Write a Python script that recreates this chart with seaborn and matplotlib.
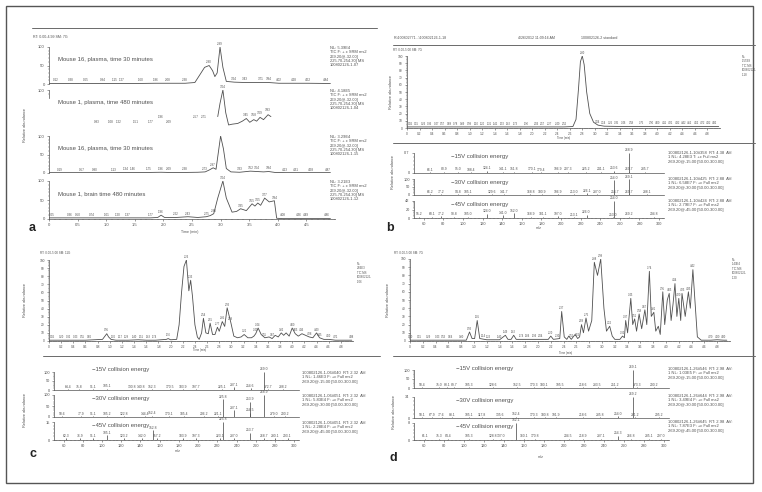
import matplotlib
matplotlib.use('Agg')
import matplotlib.pyplot as plt
import numpy as np
import seaborn as sns
from matplotlib.lines import Line2D
from matplotlib.patches import Rectangle
from matplotlib.ticker import AutoMinorLocator, FuncFormatter

sns.set_theme(style='ticks')
plt.rcParams['font.family'] = ['Liberation Sans', 'DejaVu Sans']

# ---------------- data: panel a (four chromatograms) ----------------
t_a1 = [0.00, 0.12, 0.38, 0.65, 0.94, 1.15, 1.27, 1.60, 1.86, 2.08,
        2.38, 2.55, 2.65, 2.72, 2.80, 2.86, 2.90, 2.94, 2.99, 3.04,
        3.10, 3.24, 3.43, 3.71, 3.84, 4.02, 4.28, 4.52, 4.84, 4.92]
i_a1 = [1, 1.5, 1.5, 1.2, 1.5, 1.5, 1.5, 1.5, 2, 2,
        2, 4, 28, 45, 50, 36, 20, 30, 100, 45,
        7, 5, 4, 4, 4, 2, 2, 2, 1.5, 1]
lab_a1 = [0.12, 0.38, 0.65, 0.94, 1.15, 1.27, 1.60, 1.86, 2.08, 2.38,
          2.80, 2.99, 3.24, 3.43, 3.71, 3.84, 4.02, 4.28, 4.52, 4.84]

t_a2 = [2.95, 2.99, 3.04, 3.09, 3.14, 3.20, 3.30, 3.38, 3.45, 3.51,
        3.58, 3.63, 3.69, 3.75, 3.83, 3.88]
i_a2 = [30, 65, 100, 40, 8, 10, 12, 18, 25, 15,
        22, 18, 28, 22, 35, 30]
lab_a2 = [0.83, 1.08, 1.22, 1.51, 1.77, 1.96, 2.09, 2.57, 2.71, 3.04,
          3.45, 3.58, 3.69, 3.83]
lev_a2 = [8, 8, 8, 8, 8, 20, 8, 22, 22, 100,
          25, 25, 31, 38]

t_a3 = [0.00, 0.19, 0.57, 0.80, 1.13, 1.34, 1.46, 1.75, 1.96, 2.09,
        2.38, 2.60, 2.73, 2.80, 2.87, 2.92, 2.96, 3.00, 3.05, 3.10,
        3.18, 3.33, 3.52, 3.64, 3.75, 3.84, 3.95, 4.13, 4.31, 4.58,
        4.87, 4.92]
i_a3 = [1, 1, 1, 1, 1, 1.5, 1.5, 1.5, 2, 1.5,
        1.5, 2, 3, 8, 14, 10, 55, 100, 65, 12,
        3, 2, 5, 4, 3, 4, 1.5, 1, 1, 1,
        1, 1]
lab_a3 = [0.19, 0.57, 0.80, 1.13, 1.34, 1.46, 1.75, 1.96, 2.09, 2.38,
          2.73, 2.87, 3.33, 3.52, 3.64, 3.84, 4.13, 4.31, 4.58, 4.87]

t_a4 = [0.00, 0.05, 0.36, 0.50, 0.74, 1.01, 1.20, 1.37, 1.77, 1.90,
        1.96, 2.02, 2.22, 2.43, 2.60, 2.75, 2.82, 2.88, 2.95, 3.04,
        3.10, 3.20, 3.28, 3.35, 3.45, 3.55, 3.60, 3.65, 3.70, 3.77,
        3.85, 3.94, 3.98, 4.08, 4.36, 4.49, 4.86, 4.92]
i_a4 = [3, 3, 3, 3, 3, 3, 3, 3, 3, 4,
        10, 4, 4, 6, 4, 6, 9, 14, 55, 100,
        55, 18, 20, 27, 22, 40, 34, 42, 36, 55,
        45, 48, 2, 1, 1, 1, 1, 1]
lab_a4 = [0.05, 0.36, 0.50, 0.74, 1.01, 1.20, 1.37, 1.77, 1.96, 2.22,
          2.43, 2.75, 2.88, 3.04, 3.35, 3.55, 3.65, 3.77, 3.94, 4.08,
          4.36, 4.49, 4.86]

titles_a = ['Mouse 16, plasma, time 30 minutes', 'Mouse 1, plasma, time 480 minutes',
            'Mouse 16, plasma, time 30 minutes', 'Mouse 1, brain time 480 minutes']
nl_a = ['5.39E4', '4.18E5', '3.29E4', '3.21E3']
file_a = ['100802126-1-07', '100802126-1-04', '100802126-1-15', '100802126-1-12']

# ---------------- data: panel b ----------------
t_b = [0.00, 0.50, 1.00, 1.50, 2.00, 2.50, 2.65, 2.70, 2.74, 2.77,
       2.80, 2.83, 2.87, 2.92, 2.98, 3.05, 3.15, 3.50, 4.00, 4.50, 4.98]
i_b = [1.5, 1.5, 1.5, 1.5, 1.5, 1.5, 2, 12, 55, 92,
       100, 88, 50, 20, 8, 4, 2.5, 2, 2, 2, 2]
lab_b = [0.05, 0.15, 0.26, 0.36, 0.47, 0.57, 0.68, 0.78, 0.89, 0.99,
         1.10, 1.20, 1.31, 1.41, 1.52, 1.62, 1.73, 1.90, 2.06, 2.17,
         2.27, 2.40, 2.52, 2.80, 3.04, 3.14, 3.25, 3.35, 3.46, 3.58,
         3.75, 3.90, 4.00, 4.11, 4.21, 4.32, 4.42, 4.52, 4.62, 4.72,
         4.82, 4.92]

mz_b1 = [66.1, 80.9, 95.0, 108.4, 124.1, 141.1, 151.8, 170.1, 179.4, 196.9,
         207.3, 225.2, 241.1, 253.6, 268.9, 269.7, 285.7]
ab_b1 = [0.03, 0.04, 0.04, 0.03, 0.08, 0.04, 0.04, 0.04, 0.03, 0.04,
         0.04, 0.04, 0.04, 0.08, 0.70, 0.05, 0.04]
mz_b2 = [66.2, 77.2, 94.8, 105.1, 129.6, 141.7, 168.8, 180.9, 196.9, 213.0,
         226.1, 237.0, 254.0, 254.7, 269.1, 269.7, 288.1]
ab_b2 = [4, 6, 4, 5, 4, 5, 4, 4, 4, 4,
         10, 4, 92, 3, 100, 4, 4]
mz_b3 = [55.2, 68.1, 77.2, 90.8, 105.0, 124.0, 141.0, 152.0, 168.9, 181.1,
         197.0, 213.1, 226.0, 253.0, 254.0, 269.2, 294.8]
ab_b3 = [3, 3, 4, 3, 3, 10, 7, 12, 3, 3,
         4, 2, 8, 2, 42, 3, 3]

# ---------------- data: panel c ----------------
t_c = [0.00, 0.10, 0.30, 0.60, 0.88, 0.92, 0.95, 0.98, 1.02, 1.10,
       1.30, 1.47, 1.60, 1.75, 1.93, 1.96, 2.00, 2.10, 2.14, 2.18,
       2.22, 2.26, 2.30, 2.33, 2.36, 2.40, 2.44, 2.47, 2.51, 2.54,
       2.58, 2.62, 2.65, 2.69, 2.73, 2.77, 2.80, 2.85, 2.89, 2.93,
       2.99, 3.04, 3.10, 3.16, 3.21, 3.27, 3.33, 3.37, 3.40, 3.44,
       3.49, 3.55, 3.62, 3.67, 3.72, 3.77, 3.82, 3.86, 3.90, 3.95,
       4.00, 4.05, 4.10, 4.16, 4.22, 4.28, 4.34, 4.40, 4.45, 4.52,
       4.60, 4.71, 4.85, 4.98]
i_c = [1, 1, 1, 1, 2, 6, 9, 5, 2, 1,
       1, 1.5, 1, 1, 2, 3, 1.5, 2, 20, 60,
       92, 100, 62, 75, 55, 20, 5, 2, 10, 28,
       10, 9, 22, 8, 8, 17, 12, 24, 18, 41,
       23, 6, 4, 5, 8, 4, 4, 6, 9, 16,
       8, 4, 5, 3, 7, 5, 10, 7, 10, 6,
       16, 9, 6, 9, 7, 5, 4, 10, 4, 2,
       2, 1, 1, 1]
lab_c = [0.05, 0.20, 0.32, 0.43, 0.55, 0.66, 0.95, 1.06, 1.17, 1.28,
         1.40, 1.51, 1.63, 1.74, 1.96, 2.26, 2.33, 2.54, 2.65, 2.77,
         2.85, 2.93, 2.99, 3.21, 3.40, 3.44, 3.55, 3.67, 3.82, 4.00,
         4.05, 4.16, 4.28, 4.40, 4.45, 4.60, 4.71, 4.98]

mz_c1 = [64.4, 75.8, 91.1, 105.1, 130.8, 140.8, 152.3, 170.5, 183.9, 197.7,
         225.1, 237.1, 254.6, 269.0, 272.7, 288.2]
ab_c1 = [3, 3, 3, 6, 3, 3, 4, 4, 3, 3,
         4, 15, 10, 100, 3, 3]
mz_c2 = [58.6, 77.9, 91.1, 105.2, 122.8, 144.4, 152.4, 170.1, 185.4, 206.2,
         221.1, 225.8, 237.1, 253.9, 254.5, 268.9, 279.0, 290.2]
ab_c2 = [3, 3, 3, 3, 3, 3, 4, 3, 3, 3,
         3, 80, 30, 68, 20, 100, 3, 3]
mz_c3 = [62.3, 76.9, 91.1, 105.1, 123.2, 142.0, 152.8, 157.2, 183.9, 197.3,
         223.1, 225.8, 237.0, 253.7, 268.7, 280.1, 293.1]
ab_c3 = [1.5, 1.5, 1.5, 4, 1.5, 1.5, 8, 1.5, 1.5, 1.5,
         1.5, 15, 1.5, 6, 1.5, 1.5, 1.5]

# ---------------- data: panel d ----------------
t_d = [0.00, 0.30, 0.60, 0.88, 0.93, 0.97, 1.01, 1.05, 1.09, 1.20,
       1.40, 1.49, 1.53, 1.58, 1.62, 1.66, 1.80, 2.00, 2.16, 2.20,
       2.24, 2.34, 2.37, 2.41, 2.45, 2.48, 2.52, 2.58, 2.62, 2.65,
       2.68, 2.71, 2.75, 2.79, 2.84, 2.88, 2.93, 2.98, 3.03, 3.07,
       3.12, 3.16, 3.20, 3.28, 3.32, 3.35, 3.37, 3.40, 3.45, 3.48,
       3.51, 3.54, 3.58, 3.62, 3.67, 3.70, 3.74, 3.77, 3.81, 3.84,
       3.88, 3.91, 3.95, 3.98, 4.02, 4.05, 4.08, 4.11, 4.14, 4.17,
       4.20, 4.23, 4.25, 4.30, 4.35, 4.38, 4.42, 4.46, 4.49, 4.55,
       4.70, 4.80, 4.90, 4.95]
i_d = [1, 1, 1, 1, 11, 3, 3, 25, 3, 1.5,
       1.5, 7, 2, 2, 7, 2, 2, 2, 2, 6,
       2, 3, 36, 5, 2, 6, 2, 8, 3, 5,
       20, 10, 28, 12, 25, 96, 80, 100, 40, 12,
       18, 6, 2, 2, 6, 4, 25, 10, 52, 20,
       27, 12, 33, 15, 38, 20, 85, 30, 35, 12,
       18, 8, 60, 20, 50, 58, 25, 45, 70, 30,
       52, 25, 58, 30, 60, 40, 87, 40, 5, 1,
       1, 1.5, 1, 1]
lab_d = [0.00, 0.15, 0.29, 0.43, 0.53, 0.64, 0.80, 0.93, 1.05, 1.14,
         1.23, 1.40, 1.49, 1.62, 1.74, 1.84, 1.94, 2.04, 2.20, 2.30,
         2.37, 2.52, 2.62, 2.68, 2.75, 2.88, 2.98, 3.12, 3.32, 3.37,
         3.45, 3.51, 3.58, 3.67, 3.74, 3.81, 3.95, 4.05, 4.14, 4.20,
         4.25, 4.35, 4.42, 4.70, 4.80, 4.90]

mz_d1 = [58.4, 75.0, 83.1, 89.7, 105.3, 128.6, 152.5, 170.3, 180.1, 195.5,
         218.6, 233.5, 251.2, 269.1, 273.3, 290.2]
ab_d1 = [3, 3, 3, 3, 4, 3, 3, 3, 3, 3,
         3, 3, 3, 100, 3, 3]
mz_d2 = [58.1, 67.9, 77.6, 88.1, 105.1, 117.8, 135.6, 152.4, 170.3, 180.8,
         191.9, 218.6, 235.8, 254.0, 269.2, 271.2, 295.2]
ab_d2 = [1, 1, 1, 1, 1, 1, 1, 1.5, 1, 1,
         1, 1, 1, 2.5, 34, 1, 1]
mz_d3 = [61.1, 75.3, 84.4, 105.3, 128.8, 137.0, 152.1, 160.1, 170.8, 204.5,
         218.9, 237.1, 254.3, 266.8, 285.1, 297.0]
ab_d3 = [0.5, 0.5, 0.5, 0.5, 0.5, 0.5, 8, 0.5, 0.5, 0.5,
         0.5, 0.5, 2, 0.5, 0.5, 0.5]

energies = ['\u221215V collision energy', '\u221230V collision energy', '\u221245V collision energy']
info_b = ['100802126-1-10#358  RT: 4.38  AV:\n1 NL: 4.28E3 T: +c Full ms2\n269.20@-15.00 [50.00-300.00]',
          '100802126-1-10#425  RT: 2.88  AV:\n1 NL: 6.58E7 F: +c Full ms2\n269.20@-30.00 [50.00-300.00]',
          '100802126-1-10#424  RT: 2.88  AV:\n1 NL: 2.79E7 F: +c Full ms2\n269.20@-45.00 [50.00-300.00]']
info_c = ['100802126-1-06#040  RT: 2.32  AV:\n1 NL: 1.46E3 F: +c Full ms2\n269.20@-15.00 [50.00-300.00]',
          '100802126-1-06#051  RT: 2.32  AV:\n1 NL: 5.83E4 F: +c Full ms2\n269.20@-30.00 [50.00-300.00]',
          '100802126-1-06#051  RT: 2.32  AV:\n1 NL: 2.28E4 F: +c Full ms2\n269.20@-45.00 [50.00-300.00]']
info_d = ['100802126-1-26#546  RT: 2.98  AV:\n1 NL: 1.03E5 F: +c Full ms2\n269.20@-15.00 [50.00-300.00]',
          '100802126-1-26#644  RT: 2.98  AV:\n1 NL: 3.49E4 F: +c Full ms2\n269.20@-30.00 [50.00-300.00]',
          '100802126-1-26#645  RT: 2.98  AV:\n1 NL: 7.87E3 F: +c Full ms2\n269.20@-45.00 [50.00-300.00]']

# ---------------- figure helpers ----------------
W, H = 762, 492
INK = '#505050'
fig = plt.figure(figsize=(W / 100, H / 100), dpi=100)
fig.patch.set_facecolor('white')


def px_ax(x0, y0, x1, y1):
    ax = fig.add_axes([x0 / W, 1 - y1 / H, (x1 - x0) / W, (y1 - y0) / H])
    ax.set_facecolor('none')
    return ax


def ptext(x, y, s, size=3.0, va='top', ha='left', **kw):
    fig.text(x / W, 1 - y / H, s, fontsize=size, color=kw.pop('color', INK), va=va, ha=ha, **kw)


def pline(x0, x1, y):
    fig.add_artist(Line2D([x0 / W, x1 / W], [1 - y / H, 1 - y / H], color='#6a6a6a', lw=0.7))


def tfmt(v, pos):
    return '0' if abs(v) < 1e-9 else f'{v:.1f}'


def style(ax, xlim, ylim, yticks, xticks=None, xfmt=None, lsize=2.6, minor_y=5):
    ax.set_xlim(*xlim)
    ax.set_ylim(*ylim)
    for s in ['top', 'right']:
        ax.spines[s].set_visible(False)
    for s in ['left', 'bottom']:
        ax.spines[s].set_color(INK)
        ax.spines[s].set_linewidth(0.5)
    ax.set_yticks(yticks)
    ax.yaxis.set_minor_locator(AutoMinorLocator(minor_y))
    ax.tick_params(axis='y', which='major', length=1.6, width=0.4, color=INK,
                   labelsize=lsize, labelcolor=INK, pad=1.5)
    ax.tick_params(axis='y', which='minor', length=0.9, width=0.3, color=INK)
    if xticks is None:
        ax.tick_params(axis='x', which='both', bottom=False, labelbottom=False)
    else:
        ax.set_xticks(xticks)
        ax.xaxis.set_minor_locator(AutoMinorLocator(5))
        if xfmt is not None:
            ax.xaxis.set_major_formatter(FuncFormatter(xfmt))
        ax.tick_params(axis='x', which='major', length=1.6, width=0.4, color=INK,
                       labelsize=lsize, labelcolor=INK, pad=1)
        ax.tick_params(axis='x', which='minor', length=0.9, width=0.3, color=INK)
    ax.set_xlabel('')
    ax.set_ylabel('')


def chrom(ax, t, y, labels, levels=None, lsize=2.3, off=2.0):
    sns.lineplot(x=t, y=y, ax=ax, color=INK, lw=0.6, estimator=None, sort=False)
    if levels is None:
        levels = np.interp(labels, t, y)
    for lt, lv in zip(labels, levels):
        ax.text(lt, lv + off, f'{lt:.2f}', ha='center', va='bottom', fontsize=lsize,
                color=INK, clip_on=False)


def spectrum(ax, mz, ab, top, lsize=2.4):
    ax.vlines(mz, 0, ab, color=INK, lw=0.55)
    for m, v in zip(mz, ab):
        ax.text(m, v + top * 0.03, f'{m:.1f}', ha='center', va='bottom', fontsize=lsize,
                color=INK, clip_on=False)


def ylab(x, y, s='Relative abundance'):
    fig.text(x / W, 1 - y / H, s, rotation=90, fontsize=2.8, color=INK, ha='center', va='center')


# outer frame
fig.add_artist(Rectangle((6 / W, 1 - 483 / H), 747 / W, 477 / H, transform=fig.transFigure,
                         fill=False, ec='#555555', lw=1.0))

# ================= panel a =================
pline(32, 377, 28)
ptext(33, 35, 'RT: 0.00-4.99 SM: 7G', size=2.6)
rows_a = [(47, 84), (90, 128), (136, 173), (181, 219)]
series_a = [(t_a1, i_a1, lab_a1, None), (t_a2, i_a2, lab_a2, lev_a2),
            (t_a3, i_a3, lab_a3, None), (t_a4, i_a4, lab_a4, None)]
for k, ((y0, y1), (tt, ii, ll, lv)) in enumerate(zip(rows_a, series_a)):
    ax = px_ax(49, y0, 335, y1)
    chrom(ax, tt, ii, ll, lv, lsize=2.2, off=3)
    last = k == 3
    style(ax, (0, 5.0), (0, 100), [100] if k == 1 else [0, 50, 100],
          xticks=list(np.arange(0, 4.6, 0.5)) if last else None, xfmt=tfmt, lsize=3.0)
    if not last:
        ax.spines['bottom'].set_visible(False)
    if k == 1:
        ax.spines['left'].set_bounds(80, 100)
        ax.set_yticks([90], minor=True)
    ptext(58, y0 + 10, titles_a[k], size=4.3)
    ptext(330, y0 - 1, f'NL: {nl_a[k]}\nTIC F: + c SRM ms2\n269.20@-32.00]\n'
          f'225.70-254.30] MS\n{file_a[k]}', size=2.9, linespacing=1.1)
ylab(25, 125)
ptext(190, 230, 'Time (min)', size=2.6, ha='center')
ptext(29, 222, 'a', size=9, fontweight='bold', color='#222222')

# ================= panel b =================
ptext(394, 36, 'R:\\100802771...\\100802126-1-18', size=2.6)
ptext(518, 36, '4/26/2012 11:09:16 AM', size=2.6)
ptext(581, 36, '100802126-2 standard', size=2.6)
pline(393, 755, 45)
ptext(393, 48, 'RT: 0.00-5.00 SM: 7G', size=2.2)
ax = px_ax(407, 56, 720, 128)
chrom(ax, t_b, i_b, lab_b, lsize=1.9, off=1.5)
style(ax, (0, 5.0), (0, 100), list(range(0, 101, 10)),
      xticks=list(np.round(np.arange(0, 4.81, 0.2), 1)), xfmt=tfmt, lsize=2.3)
ylab(391, 92)
ptext(564, 136.5, 'Time (min)', size=2.0, ha='center')
ptext(742, 55, 'NL:\n1.55E8\nTIC MS\n100802126-\n1-18', size=2.0, linespacing=1.15)
pline(393, 755, 143)

rows_b = [(153, 173), (179, 195), (201, 218)]
spec_b = [(mz_b1, ab_b1, 0.7, [0, 0.7]), (mz_b2, ab_b2, 100, [0, 50, 100]),
          (mz_b3, ab_b3, 42, [0, 20, 42])]
for k, ((y0, y1), (mz, ab, top, yt)) in enumerate(zip(rows_b, spec_b)):
    ax = px_ax(414, y0, 664, y1)
    spectrum(ax, mz, ab, top)
    style(ax, (50, 305), (0, top), yt,
          xticks=list(range(60, 301, 20)) if k == 2 else None, lsize=2.8)
    if k == 0:
        ax.yaxis.set_major_formatter(FuncFormatter(lambda v, p: '0' if v == 0 else f'{v:.1f}'))
    ptext(451, y0 + 1, energies[k], size=4.3)
    ptext(668, y0 - 2, info_b[k], size=3.0, linespacing=1.15)
ylab(393, 172)
ptext(539, 226, 'm/z', size=2.6, ha='center')
ptext(386, 222, 'b', size=9, fontweight='bold', color='#222222')

# ================= panel c =================
ptext(40, 251, 'RT: 0.00-5.00 SM: 11G', size=2.2)
ax = px_ax(49, 260, 353, 341)
chrom(ax, t_c, i_c, lab_c, lsize=1.9, off=1.5)
style(ax, (0, 5.0), (0, 100), list(range(0, 101, 10)),
      xticks=list(np.round(np.arange(0, 4.81, 0.2), 1)), xfmt=tfmt, lsize=2.3)
ylab(25, 300)
ptext(200, 348.5, 'Time (min)', size=2.0, ha='center')
ptext(357, 262, 'NL:\n2.66E3\nTIC MS\n100802126-\n1-06', size=2.0, linespacing=1.15)
pline(43, 380, 356)

rows_c = [(372, 390), (395, 417), (422, 440)]
spec_c = [(mz_c1, ab_c1, 100, [0, 50, 100]), (mz_c2, ab_c2, 100, [0, 50, 100]),
          (mz_c3, ab_c3, 15, [0, 15])]
for k, ((y0, y1), (mz, ab, top, yt)) in enumerate(zip(rows_c, spec_c)):
    ax = px_ax(54, y0, 299, y1)
    spectrum(ax, mz, ab, top)
    style(ax, (50, 305), (0, top), yt,
          xticks=list(range(60, 301, 20)) if k == 2 else None, lsize=2.8)
    ptext(92, y0 - 5 if k == 0 else y0 + 1, energies[k], size=4.3)
    ptext(302, y0 - 1, info_c[k], size=3.0, linespacing=1.15)
ylab(25, 410)
ptext(178, 449, 'm/z', size=2.6, ha='center')
ptext(29, 448, 'c', size=9, fontweight='bold', color='#222222')

# ================= panel d =================
ptext(394, 251, 'RT: 0.00-5.00 SM: 7G', size=2.2)
ax = px_ax(410, 259, 730, 341)
chrom(ax, t_d, i_d, lab_d, lsize=1.9, off=1.5)
style(ax, (0, 5.0), (0, 100), list(range(0, 101, 10)),
      xticks=list(np.round(np.arange(0, 4.81, 0.2), 1)), xfmt=tfmt, lsize=2.3)
ylab(388, 300)
ptext(566, 351, 'Time (min)', size=2.0, ha='center')
ptext(732, 258, 'NL:\n1.43E4\nTIC MS\n100802126-\n1-20', size=2.0, linespacing=1.15)
pline(393, 755, 356)

rows_d = [(370, 388), (397, 418), (423, 440)]
spec_d = [(mz_d1, ab_d1, 100, [0, 50, 100]), (mz_d2, ab_d2, 34, [0, 34]),
          (mz_d3, ab_d3, 8, [0, 8])]
for k, ((y0, y1), (mz, ab, top, yt)) in enumerate(zip(rows_d, spec_d)):
    ax = px_ax(414, y0, 669, y1)
    spectrum(ax, mz, ab, top)
    style(ax, (50, 305), (0, top), yt,
          xticks=list(range(60, 301, 20)) if k == 2 else None, lsize=2.8)
    ptext(456, y0 - 4 if k == 0 else y0 + 1, energies[k], size=4.3)
    ptext(668, y0 - 3, info_d[k], size=3.0, linespacing=1.15)
ylab(394, 412)
ptext(541, 455, 'm/z', size=2.6, ha='center')
ptext(389, 452, 'd', size=9, fontweight='bold', color='#222222')

fig.savefig('out.png', dpi=100, facecolor='white')
